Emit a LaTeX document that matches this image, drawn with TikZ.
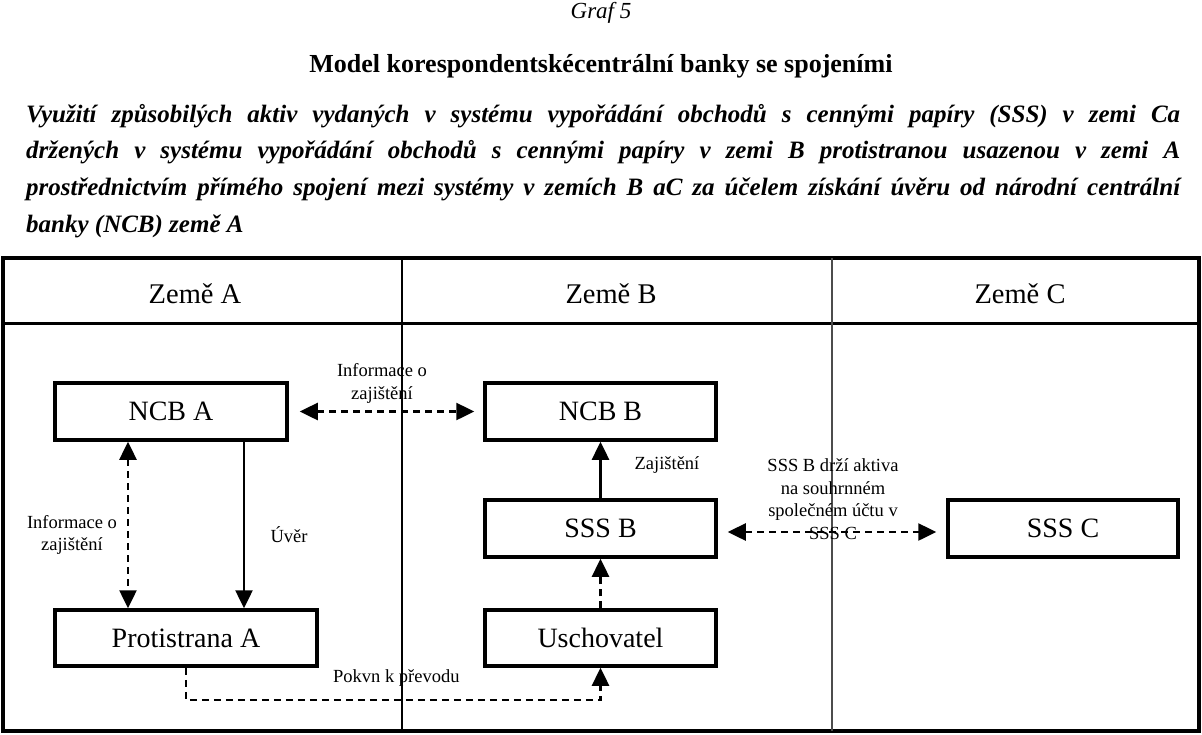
\documentclass[tikz,border=0pt]{standalone}
\usepackage{fontspec}
\setmainfont{Liberation Serif}
\usetikzlibrary{arrows.meta,calc}
\newcommand\jline[1]{\hbox to 1154pt{\spaceskip=0.22em plus 1fil minus 0.05em\relax #1}}
\begin{document}
\begin{tikzpicture}[x=1pt,y=-1pt,
  box/.style={draw,line width=3.5pt,minimum height=57pt,inner sep=0pt,font=\fontsize{28}{32}\selectfont},
  lbl/.style={font=\fontsize{18.5}{22.7}\selectfont,align=center,inner sep=0pt},
  hdr/.style={font=\fontsize{28.5}{32}\selectfont,inner sep=0pt,anchor=base},
  para/.style={font=\bfseries\itshape\fontsize{25}{30}\selectfont,inner sep=0pt,anchor=base west},
  tip/.style={-{Triangle[length=18pt,width=17pt]}},
  dtip/.style={{Triangle[length=18pt,width=17pt]}-{Triangle[length=18pt,width=17pt]}},
  dsh/.style={line width=2.5pt,dash pattern=on 7pt off 5pt},
  sol/.style={line width=2.5pt}]
\useasboundingbox (0,0) rectangle (1202,734);
% titles
\node[font=\itshape\fontsize{23}{26}\selectfont,inner sep=0pt] (graf) at (601,13) {Graf 5};
\node[font=\bfseries\fontsize{26}{30}\selectfont,inner sep=0pt] (title) at (601,66) {Model korespondentskécentrální banky se spojeními};
\node[para] (p1) at (26,122) {\jline{Využití způsobilých aktiv vydaných v systému vypořádání obchodů s cennými papíry (SSS) v zemi Ca}};
\node[para] (p2) at (26,158.7) {\jline{držených v systému vypořádání obchodů s cennými papíry v zemi B protistranou usazenou v zemi A}};
\node[para] (p3) at (26,195.3) {\jline{prostřednictvím přímého spojení mezi systémy v zemích B aC za účelem získání úvěru od národní centrální}};
\node[para] (p4) at (26,232) {banky (NCB) země A};
% frame
\draw[line width=3.5pt] (3,258) rectangle (1199,731);
\draw[line width=3pt] (3,323) -- (1199,323);
\draw[line width=1.3pt] (402,258) -- (402,731);
\draw[line width=1.8pt,black!70] (832,258) -- (832,731);
\node[hdr] (ha) at (195,303) {Země A};
\node[hdr] (hb) at (611,303) {Země B};
\node[hdr] (hc) at (1020,303) {Země C};
% boxes
\node[box,minimum width=232pt] (ncba) at (171,411.5) {NCB A};
\node[box,minimum width=231pt] (ncbb) at (600.5,411.5) {NCB B};
\node[box,minimum width=231pt] (sssb) at (600.5,528.5) {SSS B};
\node[box,minimum width=230pt] (sssc) at (1063,528.5) {SSS C};
\node[box,minimum width=262pt,minimum height=56pt] (prot) at (186,638) {Protistrana A};
\node[box,minimum width=231pt,minimum height=56pt] (usch) at (600.5,638) {Uschovatel};
% connectors
\draw[dsh,dtip,shorten <=11pt,shorten >=9pt] (ncba.east) -- (ncbb.west);
\draw[dsh,dtip] ([xshift=-43pt]ncba.south) -- ([xshift=-58pt]prot.north);
\draw[sol,tip] ([xshift=73pt]ncba.south) -- ([xshift=58pt]prot.north);
\draw[sol,tip] (sssb.north) -- (ncbb.south);
\draw[dsh,tip] (usch.north) -- (sssb.south);
\draw[dsh,dtip,shorten <=10pt,shorten >=10pt] ([yshift=-3.5pt]sssb.east) -- ([yshift=-3.5pt]sssc.west);
\coordinate (pk) at (400,700);
\draw[dsh,tip] (prot.south) |- (pk) -| (usch.south);
% labels
\node[lbl] (l1) at (382,383.5) {Informace o\\zajištění};
\node[lbl] (l2) at (72,535) {Informace o\\zajištění};
\node[lbl] (l3) at (289,535) {Úvěr};
\node[lbl] (l4) at (667,465) {Zajištění};
\node[lbl] (l5) at (833,499) {SSS B drží aktiva\\na souhrnném\\společném účtu v\\SSS C};
\node[lbl,anchor=west] (l6) at (333,678) {Pokvn k převodu};
\end{tikzpicture}
\end{document}
